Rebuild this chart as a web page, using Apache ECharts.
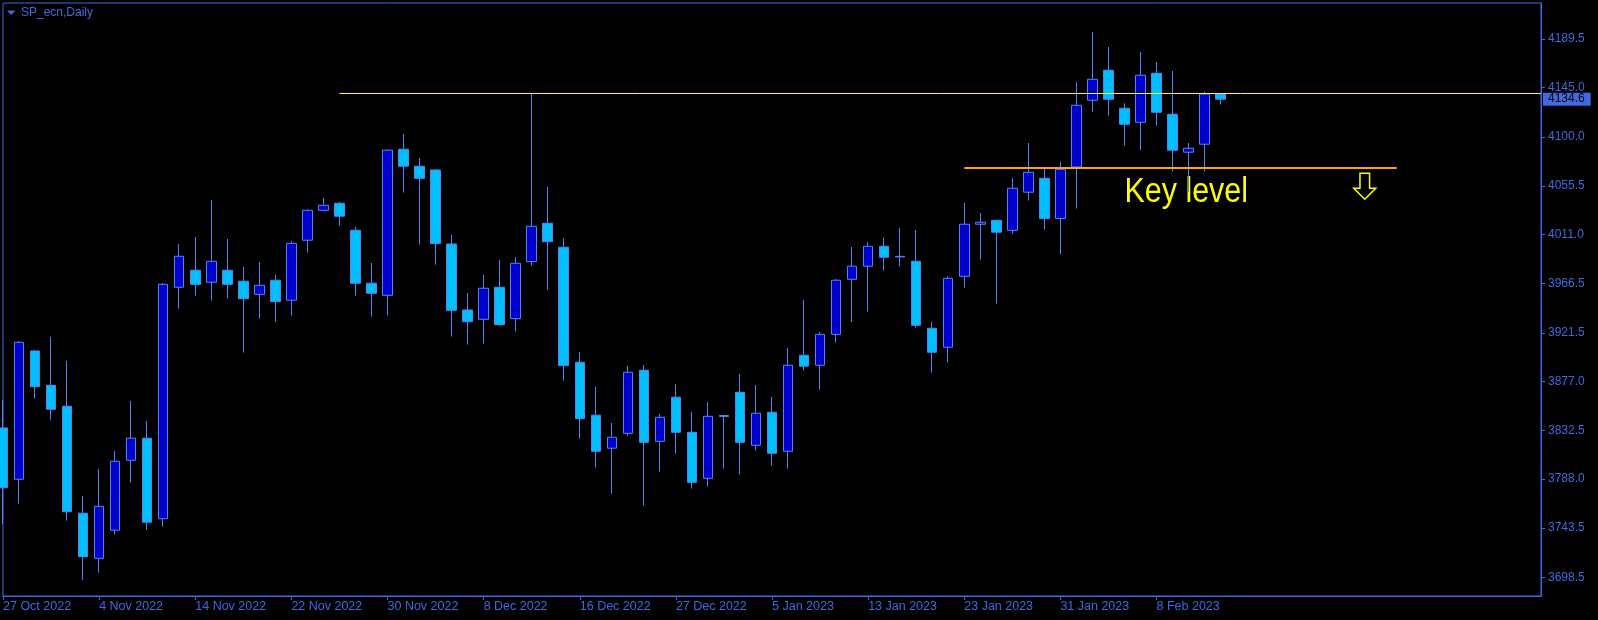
<!DOCTYPE html>
<html><head><meta charset="utf-8">
<script src="https://cdn.jsdelivr.net/npm/echarts@6/dist/echarts.min.js"></script>
<style>html,body{margin:0;padding:0;background:#000;}#c{width:1598px;height:620px;}</style>
</head><body><div id="c"></div>
<script>
// ---------- data ----------
const symbolTitle = 'SP_ecn,Daily';
const dates = ['2022-10-27','2022-10-28','2022-10-31','2022-11-01','2022-11-02','2022-11-03','2022-11-04','2022-11-07','2022-11-08','2022-11-09',
'2022-11-10','2022-11-11','2022-11-14','2022-11-15','2022-11-16','2022-11-17','2022-11-18','2022-11-21','2022-11-22','2022-11-23',
'2022-11-24','2022-11-25','2022-11-28','2022-11-29','2022-11-30','2022-12-01','2022-12-02','2022-12-05','2022-12-06','2022-12-07',
'2022-12-08','2022-12-09','2022-12-12','2022-12-13','2022-12-14','2022-12-15','2022-12-16','2022-12-19','2022-12-20','2022-12-21',
'2022-12-22','2022-12-23','2022-12-27','2022-12-28','2022-12-29','2022-12-30','2023-01-03','2023-01-04','2023-01-05','2023-01-06',
'2023-01-09','2023-01-10','2023-01-11','2023-01-12','2023-01-13','2023-01-16','2023-01-17','2023-01-18','2023-01-19','2023-01-20',
'2023-01-23','2023-01-24','2023-01-25','2023-01-26','2023-01-27','2023-01-30','2023-01-31','2023-02-01','2023-02-02','2023-02-03',
'2023-02-06','2023-02-07','2023-02-08','2023-02-09','2023-02-10','2023-02-13','2023-02-14'];
const opens = [3834.7,3787.9,3904.9,3873.6,3854.5,3756.9,3715.8,3741.4,3805.2,3825.3,
3751.9,3963.0,3978.5,3967.6,3978.5,3968.5,3956.6,3969.4,3951.2,4005.9,
4033.2,4039.6,4015.0,3966.7,3955.7,4088.9,4073.4,4070.0,4002.5,3942.3,
3933.8,3963.0,3934.4,3986.4,4021.4,3999.5,3894.6,3846.3,3816.2,3829.8,
3887.3,3822.5,3862.7,3830.7,3788.8,3846.0,3867.2,3818.9,3849.0,3813.4,
3901.0,3891.9,3920.1,3970.3,3982.2,4000.4,3991.2,3986.7,3925.6,3908.3,
3973.0,4020.5,4024.1,4015.0,4049.7,4062.4,4025.8,4072.7,4133.6,4161.0,
4126.3,4113.5,4158.2,4120.8,4086.2,4093.5,4139.3];
const closes = [3780.2,3912.8,3872.3,3851.7,3758.3,3717.3,3763.2,3804.3,3825.3,3748.7,
3965.7,3991.3,3965.7,3986.7,3965.7,3952.6,3964.8,3949.9,4003.1,4033.2,
4037.8,4027.8,3966.7,3957.5,4088.0,4073.4,4062.4,4002.8,3942.0,3931.6,
3962.1,3928.9,3984.9,4018.6,4004.6,3891.5,3843.2,3813.4,3826.2,3885.5,
3821.6,3844.4,3830.7,3785.1,3845.3,3845.2,3821.6,3848.1,3811.6,3891.9,
3891.0,3920.1,3969.4,3982.2,4000.4,3990.4,3990.7,3928.3,3903.7,3971.2,
4020.5,4022.3,4013.2,4053.3,4067.9,4025.8,4070.6,4129.0,4152.7,4134.5,
4111.7,4156.4,4122.6,4088.0,4089.8,4139.3,4134.6];
const lows = [3747.1,3765.6,3861.4,3842.2,3750.1,3696.0,3702.7,3737.3,3784.8,3741.9,
3744.6,3943.5,3955.3,3950.8,3952.6,3903.4,3934.4,3931.6,3937.1,3994.6,
4032.3,4019.2,3955.3,3936.2,3937.1,4049.3,4001.9,3983.6,3918.0,3910.7,
3911.6,3928.0,3922.5,3982.7,3960.8,3877.8,3824.9,3798.5,3774.7,3827.6,
3764.0,3794.8,3811.2,3779.3,3781.1,3797.5,3792.1,3814.1,3800.3,3797.5,
3886.9,3869.6,3912.5,3931.4,3940.8,3978.2,3981.8,3926.2,3885.1,3894.2,
3962.6,3988.2,3948.1,4011.9,4042.0,4015.6,3993.1,4034.7,4123.2,4119.5,
4092.2,4088.0,4110.4,4068.5,4050.2,4068.5,4129.6];
const highs = [3860.2,3914.0,3905.8,3917.7,3895.8,3772.6,3797.3,3813.7,3859.3,3841.1,
3966.9,4002.5,4008.9,4042.6,4007.1,3981.5,3986.1,3974.2,4005.0,4034.2,
4044.5,4040.8,4018.0,3985.2,4088.9,4102.8,4081.0,4070.9,4010.7,3957.8,
3974.2,3987.9,3990.6,4140.0,4054.5,4007.7,3904.0,3872.1,3839.2,3891.2,
3892.1,3847.4,3874.8,3849.3,3858.4,3846.5,3883.9,3873.9,3863.0,3907.6,
3951.4,3922.2,3970.6,3999.8,4004.1,4008.6,4017.1,4015.3,3931.4,3973.0,
4039.9,4030.8,4024.4,4062.7,4094.6,4071.6,4077.3,4150.3,4195.9,4182.2,
4130.9,4177.6,4168.5,4160.3,4094.6,4141.2,4139.5];
const yTickValues = [3698.5,3743.5,3788.0,3832.5,3877.0,3921.5,3966.5,4011.0,4055.5,4100.0,4145.0,4189.5];
const yMin = 3681.4, yMax = 4222.3;
const futureSlots = 20;
const labelEvery = 6;
const resistanceLevel = 4140.0, resistanceFrom = 21;
const keyLevel = 4072.1, keyFrom = 60, keyTo = 87;
const lastPrice = 4134.6;
const keyText = 'Key level';
const keyTextAnchor = [70.1, 4050.0];
const arrowAnchor = [85, 4067.0];

// ---------- build ----------
const MONTHS = ['Jan','Feb','Mar','Apr','May','Jun','Jul','Aug','Sep','Oct','Nov','Dec'];
function fmtDate(s){ if(!s) return ''; const p=s.split('-'); return (+p[2])+' '+MONTHS[+p[1]-1]+' '+p[0]; }
const categories = dates.concat(Array(futureSlots).fill(''));
const ohlc = dates.map((d,i)=>[opens[i],closes[i],lows[i],highs[i]]);
const AX = '#4169E1';
const FONT = 'Liberation Sans, Arial, sans-serif';
const showIdx = (i) => i % labelEvery === 0 && i < dates.length;

const chart = echarts.init(document.getElementById('c'), null, {renderer:'canvas'});
const option = {
  animation:false,
  backgroundColor:'#000000',
  grid:{left:3, top:3, right:57, bottom:24, show:true, borderColor:AX, borderWidth:1, backgroundColor:'#000'},
  xAxis:{
    type:'category', data:categories, boundaryGap:false,
    axisLine:{show:true, lineStyle:{color:AX, width:1}},
    axisTick:{show:true, length:4, interval:showIdx, lineStyle:{color:AX}},
    axisLabel:{show:true, interval:showIdx, align:'left', margin:4, color:AX, fontSize:12.5, fontFamily:FONT,
      formatter:(v)=>fmtDate(v)},
    splitLine:{show:false}
  },
  yAxis:{
    type:'value', position:'right', min:yMin, max:yMax,
    axisLine:{show:true, lineStyle:{color:AX}},
    axisTick:{show:true, length:4, customValues:yTickValues, lineStyle:{color:AX}},
    axisLabel:{show:true, customValues:yTickValues, margin:7, color:AX, fontSize:12, fontFamily:FONT,
      formatter:(v)=>v.toFixed(1)},
    splitLine:{show:false}
  },
  series:[{
    type:'candlestick', data:ohlc, barWidth:10, clip:true,
    itemStyle:{color:'#0000CD', color0:'#00BFFF', borderColor:'#4f86f7', borderColor0:'#4f86f7', borderWidth:1},
    emphasis:{disabled:true},
    markLine:{
      silent:true, symbol:'none', animation:false,
      data:[
        [{coord:[resistanceFrom, resistanceLevel], lineStyle:{color:'#FFFF00', width:1, type:'solid'}, label:{show:false}},
         {coord:[categories.length-1, resistanceLevel]}],
        [{coord:[keyFrom, keyLevel], lineStyle:{color:'#FFA500', width:2, type:'solid'}, label:{show:false}},
         {coord:[keyTo, keyLevel]}],
        {yAxis:lastPrice, lineStyle:{color:'rgba(0,0,0,0)', width:1},
         label:{show:true, position:'end', distance:2, formatter:lastPrice.toFixed(1), color:'#000', fontSize:12, fontFamily:FONT,
           backgroundColor:AX, padding:[1,6,0,5], lineHeight:12}}
      ]
    }
  }]
};
chart.setOption(option);

const tp = chart.convertToPixel({xAxisIndex:0, yAxisIndex:0}, keyTextAnchor);
const ap = chart.convertToPixel({xAxisIndex:0, yAxisIndex:0}, arrowAnchor);
chart.setOption({graphic:[
  {type:'polygon', shape:{points:[[7,10.5],[15.5,10.5],[11.25,15]]}, style:{fill:AX}},
  {type:'text', x:21, y:13, style:{text:symbolTitle, fill:AX, font:'12px '+FONT, textVerticalAlign:'middle'}},
  {type:'text', x:tp[0], y:tp[1], scaleX:0.87, originX:0, originY:0, style:{text:keyText, fill:'#FFFF00', font:'35px '+FONT, textVerticalAlign:'middle'}},
  {type:'polygon', x:ap[0], y:ap[1], shape:{points:[[-4.8,0],[4.8,0],[4.8,15],[11,15],[0,26],[-11,15],[-4.8,15]]},
   style:{fill:'none', stroke:'#FFFF00', lineWidth:1.5}}
]});
</script></body></html>
